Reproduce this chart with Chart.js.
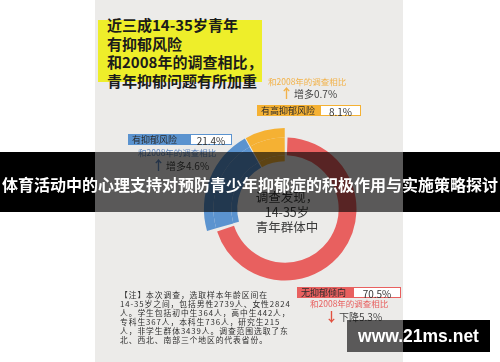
<!DOCTYPE html>
<html lang="zh">
<head>
<meta charset="UTF-8">
<title>青年抑郁风险</title>
<script src="https://cdn.jsdelivr.net/npm/chart.js"></script>
<style>
  body { margin: 0; background: #fff; font-family: "Noto Sans CJK SC", sans-serif; }
  .stage { position: relative; width: 500px; height: 362px; overflow: hidden; background: #fff; }
  .sheet { position: absolute; left: 95px; top: 0; width: 308px; height: 362px; background: #ecebe9; }
  .hl { position: absolute; left: 98px; top: 20px; width: 164px; height: 62px; background: #eeee2a; }
  .title { position: absolute; left: 107px; top: 16px; font-size: 15px; font-weight: bold; line-height: 18.5px; color: #1b1b1b; white-space: nowrap; }
  #ring { position: absolute; left: 195px; top: 119px; }
  .center { position: absolute; left: 237px; top: 189px; width: 100px; text-align: center; font-size: 12.5px; line-height: 15px; color: #3c3c3c; }
  .tag { position: absolute; display: flex; height: 11px; font-size: 9px; line-height: 11px; white-space: nowrap; }
  .tag .k { padding-left: 4px; color: #2b2b2b; }
  .tag .v { background: #fff; border: 1px solid; border-left: none; box-sizing: border-box; text-align: center; color: #333; font-size: 10px; }
  .cmp { position: absolute; font-size: 8.5px; line-height: 9px; white-space: nowrap; }
  .chg { position: absolute; font-size: 10px; line-height: 11px; height: 11px; color: #444; white-space: nowrap; }
  .chg b { display: inline-block; font-size: 13px; line-height: 11px; margin-right: 1px; }
  .note { position: absolute; left: 120px; top: 290px; font-size: 7.8px; line-height: 9px; letter-spacing: 0.9px; color: #2e2e2e; white-space: nowrap; }
  .banner { position: absolute; left: 0; top: 152px; width: 500px; height: 60px;
    background: linear-gradient(to right, #000 95px, rgba(0,0,0,0.62) 95px, rgba(0,0,0,0.62) 403px, #000 403px); }
  .banner span { position: absolute; left: 0; width: 500px; top: 22px; text-align: center; color: #fff; font-size: 16px; font-weight: bold; line-height: 20px; white-space: nowrap; }
  .mark { position: absolute; left: 347px; top: 320px; width: 143px; height: 32px;
    background: linear-gradient(to right, rgba(0,0,0,0.62) 56px, #000 56px);
    color: #fff; font-family: "Liberation Sans", Arial, sans-serif; font-weight: bold; font-size: 17.5px; line-height: 32px; text-align: center; }
</style>
</head>
<body>
<div class="stage" id="stage">
  <div class="sheet"></div>
  <div class="hl"></div>
  <div class="title">近三成14-35岁青年<br>有抑郁风险<br>和2008年的调查相比，<br>青年抑郁问题有所加重</div>
  <canvas id="ring" width="180" height="180"></canvas>
  <div class="center">调查发现，<br>14-35岁<br>青年群体中</div>
  <div class="note">【注】本次调查，选取样本年龄区间在<br>14-35岁之间，包括男性2739人、女性2824<br>人。学生包括初中生364人，高中生442人，<br>专科生367人，本科生736人，研究生215<br>人，非学生群体3439人。调查范围选取了东<br>北、西北、南部三个地区的代表省份。</div>
</div>
<script>
// survey shares (%) and change versus the 2008 survey
const categories = ['无抑郁倾向', '有抑郁风险', '有高抑郁风险'];
const shares = [70.5, 21.4, 8.1];
const changes = ['下降5.3%', '增多4.6%', '增多0.7%'];
const compareText = '和2008年的调查相比';

const red = '#e8605f', blue = '#5b93cf', yellow = '#f5b133';
const none = 'rgba(0,0,0,0)';

// red is a thin ring, blue and yellow stick out on both sides
new Chart(document.getElementById('ring'), {
  type: 'doughnut',
  data: {
    labels: categories,
    datasets: [
      { data: shares, backgroundColor: [none, blue, yellow], weight: 8 },
      { data: shares, backgroundColor: [red, blue, yellow], weight: 15 },
      { data: shares, backgroundColor: [none, blue, yellow], weight: 5 }
    ]
  },
  options: {
    responsive: false,
    animation: false,
    radius: 80,
    cutout: 52,
    spacing: 2,
    borderWidth: 0,
    plugins: { legend: { display: false }, tooltip: { enabled: false } }
  }
});

// tags, comparisons and arrows
const stage = document.getElementById('stage');
const tagPos = [
  { x: 297, y: 287, k: 53, v: 47, c: red, t: '#e8605f', cx: 310, cy: 299, ax: 325, ay: 310, up: false },
  { x: 128, y: 134, k: 59, v: 41, c: blue, t: '#5f86bd', cx: 138, cy: 148, ax: 152, ay: 159, up: true },
  { x: 257, y: 105, k: 60, v: 40, c: yellow, t: '#f2b24a', cx: 268, cy: 77, ax: 280, ay: 87, up: true }
];
categories.forEach((name, i) => {
  const p = tagPos[i];
  const tag = document.createElement('div');
  tag.className = 'tag';
  tag.style.left = p.x + 'px';
  tag.style.top = p.y + 'px';
  tag.innerHTML = '<div class="k" style="width:' + p.k + 'px;background:' + p.c + '">' + name + '</div>' +
    '<div class="v" style="width:' + p.v + 'px;border-color:' + p.c + '">' + shares[i].toFixed(1) + '%</div>';
  stage.appendChild(tag);

  const cmp = document.createElement('div');
  cmp.className = 'cmp';
  cmp.style.left = p.cx + 'px';
  cmp.style.top = p.cy + 'px';
  cmp.style.color = p.t;
  cmp.textContent = compareText;
  stage.appendChild(cmp);

  const chg = document.createElement('div');
  chg.className = 'chg';
  chg.style.left = p.ax + 'px';
  chg.style.top = p.ay + 'px';
  chg.innerHTML = '<b style="color:' + (p.up ? p.t : '#e2503f') + '">' + (p.up ? '↑' : '↓') + '</b>' + changes[i];
  stage.appendChild(chg);
});

const banner = document.createElement('div');
banner.className = 'banner';
banner.innerHTML = '<span>体育活动中的心理支持对预防青少年抑郁症的积极作用与实施策略探讨</span>';
stage.appendChild(banner);

const mark = document.createElement('div');
mark.className = 'mark';
mark.textContent = 'www.21ms.net';
stage.appendChild(mark);
</script>
</body>
</html>
